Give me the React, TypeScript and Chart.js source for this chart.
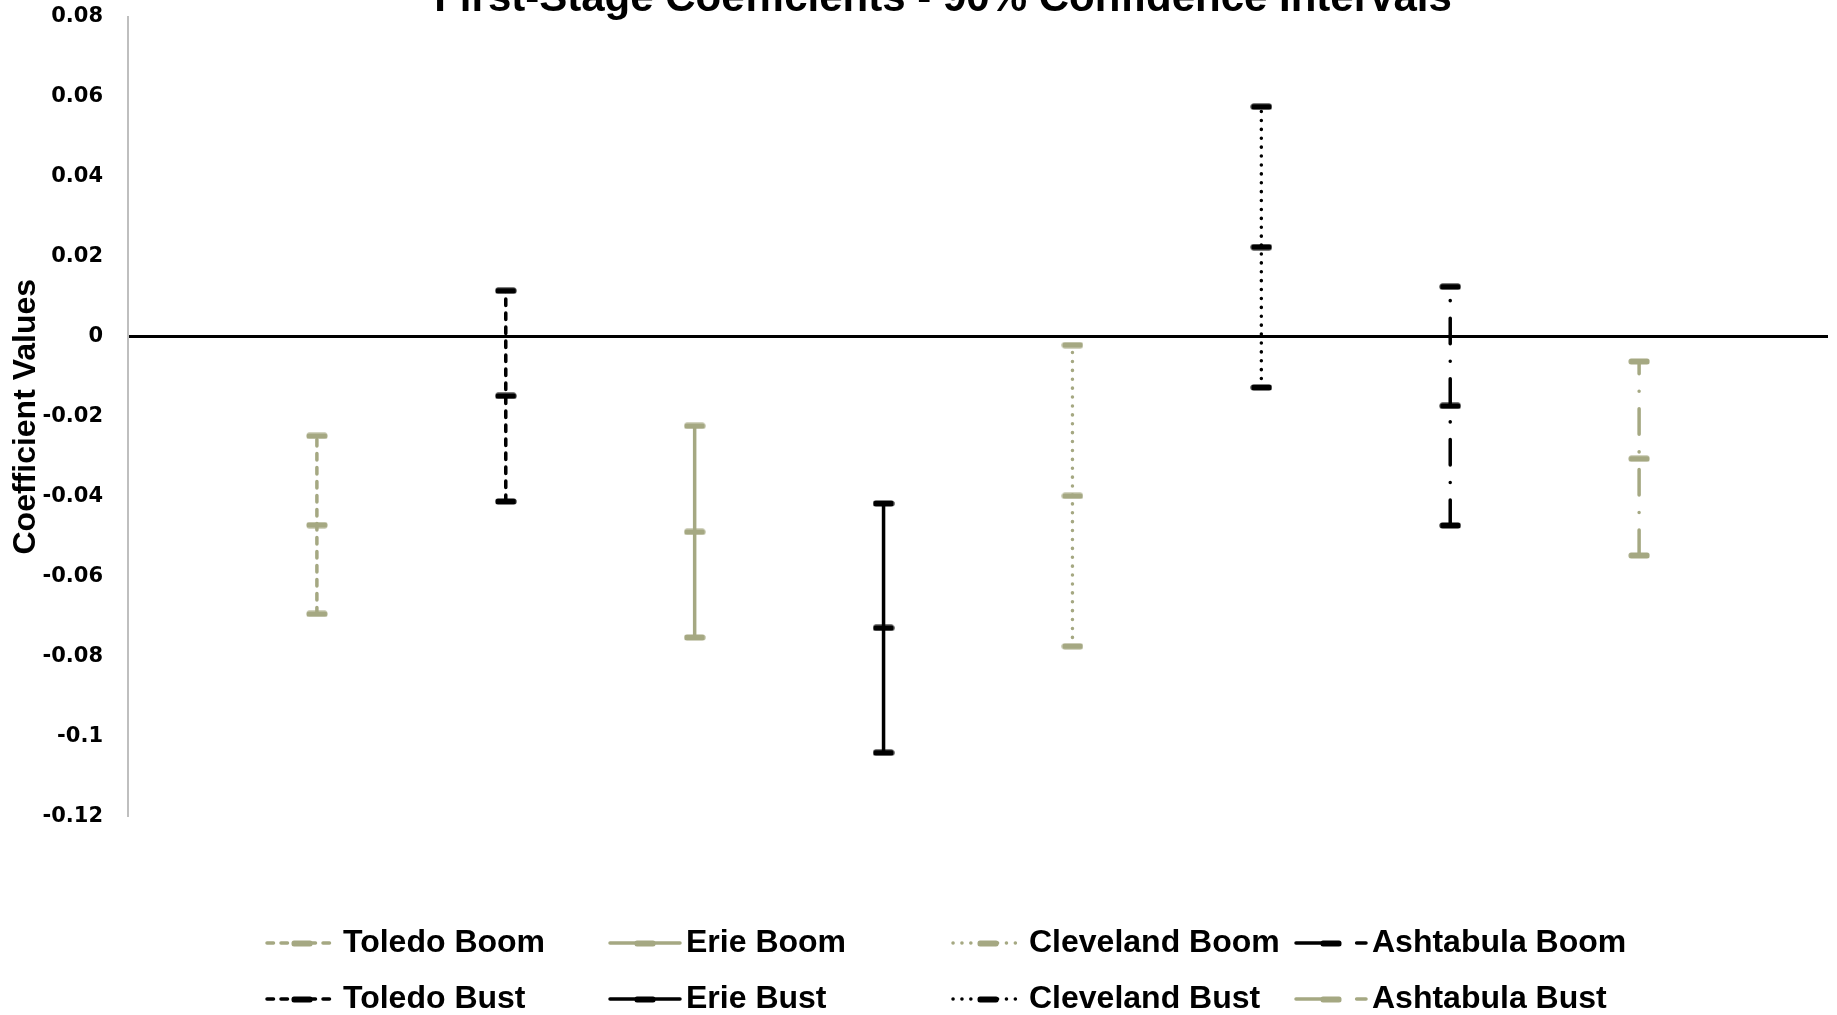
import React, { useEffect, useRef } from "react";
import { Chart, registerables } from "chart.js";

Chart.register(...registerables);

// ---------- data ----------
const categories = [
  "Toledo Boom",
  "Toledo Bust",
  "Erie Boom",
  "Erie Bust",
  "Cleveland Boom",
  "Cleveland Bust",
  "Ashtabula Boom",
  "Ashtabula Bust",
];
const xPositions = [1, 2, 3, 4, 5, 6, 7, 8];
const lowerBounds = [-0.0693, -0.0412, -0.0752, -0.104, -0.0774, -0.0127, -0.0472, -0.0547];
const pointEstimates = [-0.0471, -0.0148, -0.0488, -0.0728, -0.0398, 0.0224, -0.0173, -0.0305];
const upperBounds = [-0.0248, 0.0115, -0.0223, -0.0417, -0.0021, 0.0575, 0.0125, -0.0062];
const yTickValues = [0.08, 0.06, 0.04, 0.02, 0, -0.02, -0.04, -0.06, -0.08, -0.1, -0.12];
const yTickLabels = ["0.08", "0.06", "0.04", "0.02", "0", "-0.02", "-0.04", "-0.06", "-0.08", "-0.1", "-0.12"];
const chartTitle = "First-Stage Coefficients - 90% Confidence Intervals";
const yAxisTitle = "Coefficient Values";

// ---------- styles ----------
const OLIVE = "#A5A882";
const BLACK = "#000000";
const seriesColors = [OLIVE, BLACK, OLIVE, BLACK, OLIVE, BLACK, BLACK, OLIVE];
const DASHED = [6.5, 7.5];
const SOLID: number[] = [];
const DOTTED = [0.1, 8.8];
const LONGDASHDOT = [25.5, 17.5, 0.1, 17.5];
const seriesDashes = [DASHED, DASHED, SOLID, SOLID, DOTTED, DOTTED, LONGDASHDOT, LONGDASHDOT];

const SANS = "'Liberation Sans', Arial, sans-serif";
const TICKFONT = "'DejaVu Sans', 'Liberation Sans', sans-serif";

function makeMarker(color: string): HTMLCanvasElement {
  const c = document.createElement("canvas");
  c.width = 22;
  c.height = 7;
  const g = c.getContext("2d")!;
  g.fillStyle = color;
  g.beginPath();
  (g as any).roundRect(0.5, 0.5, 21, 6, 2.5);
  g.fill();
  return c;
}

const gridLegendPlugin = {
  id: "gridLegend",
  afterDraw(chart: any, _args: any, opts: any) {
    const ctx = chart.ctx as CanvasRenderingContext2D;
    const { startX, columnWidth, rowYs, sampleWidth, textGap, font } = opts;
    chart.data.datasets.forEach((ds: any, i: number) => {
      const col = Math.floor(i / 2);
      const row = i % 2;
      const x = startX + col * columnWidth;
      const y = rowYs[row];
      ctx.save();
      ctx.strokeStyle = ds.borderColor;
      ctx.lineWidth = ds.borderWidth;
      ctx.lineCap = "round";
      ctx.setLineDash(ds.borderDash || []);
      ctx.beginPath();
      ctx.moveTo(x, y);
      ctx.lineTo(x + sampleWidth, y);
      ctx.stroke();
      ctx.setLineDash([]);
      const img = ds.pointStyle as HTMLCanvasElement;
      ctx.drawImage(img, Math.round(x + sampleWidth / 2 - img.width / 2), Math.round(y - img.height / 2));
      ctx.fillStyle = "#000";
      ctx.font = font;
      ctx.textBaseline = "middle";
      ctx.textAlign = "left";
      ctx.fillText(ds.label, x + sampleWidth + textGap, y);
      ctx.restore();
    });
  },
};

export default function App() {
  const canvasRef = useRef<HTMLCanvasElement | null>(null);

  useEffect(() => {
    const canvas = canvasRef.current;
    if (!canvas) return;
    const oliveMarker = makeMarker(OLIVE);
    const blackMarker = makeMarker(BLACK);

    const datasets = categories.map((name, i) => ({
      label: name,
      data: [
        { x: xPositions[i], y: lowerBounds[i] },
        { x: xPositions[i], y: pointEstimates[i] },
        { x: xPositions[i], y: upperBounds[i] },
      ],
      showLine: true,
      borderColor: seriesColors[i],
      backgroundColor: seriesColors[i],
      borderWidth: 3.5,
      borderDash: seriesDashes[i],
      borderCapStyle: "round" as const,
      borderJoinStyle: "round" as const,
      tension: 0,
      pointStyle: seriesColors[i] === OLIVE ? oliveMarker : blackMarker,
      pointRadius: 6,
      pointHoverRadius: 6,
      yAxisID: "y",
    }));

    const chart = new Chart(canvas, {
      type: "scatter",
      data: { datasets },
      plugins: [gridLegendPlugin as any],
      options: {
        animation: false,
        responsive: false,
        devicePixelRatio: 1,
        events: [],
        layout: { padding: { top: 0, right: 0, bottom: 198.3, left: 0 } },
        plugins: {
          legend: { display: false },
          tooltip: { enabled: false },
          title: {
            display: true,
            text: chartTitle,
            color: "#000",
            font: { family: SANS, weight: "bold", size: 42, lineHeight: 0.8 },
            padding: { top: 12.6, bottom: 0.5 },
          },
          gridLegend: {
            startX: 267,
            columnWidth: 343,
            rowYs: [973, 1029],
            sampleWidth: 70,
            textGap: 6,
            font: `bold 32px ${SANS}`,
          },
        } as any,
        scales: {
          x: {
            type: "linear",
            min: 0,
            max: 9,
            display: false,
          },
          y: {
            type: "linear",
            position: "left",
            min: -0.12,
            max: 0.08,
            afterBuildTicks: (scale: any) => {
              scale.ticks = yTickValues.map((v) => ({ value: v }));
            },
            afterFit: (scale: any) => {
              scale.width = 128;
            },
            ticks: {
              padding: 25,
              color: "#000",
              font: { family: TICKFONT, weight: "bold", size: 21 },
              callback: (value: any) => {
                const idx = yTickValues.findIndex((v) => Math.abs(v - Number(value)) < 1e-9);
                return idx >= 0 ? yTickLabels[idx] : "";
              },
            },
            grid: {
              drawTicks: false,
              color: (c: any) => (c.tick && Math.abs(c.tick.value) < 1e-9 ? "#000" : "rgba(0,0,0,0)"),
              lineWidth: (c: any) => (c.tick && Math.abs(c.tick.value) < 1e-9 ? 3 : 0),
            },
            border: { display: true, color: "#BFBFBF", width: 2 },
            title: {
              display: true,
              text: yAxisTitle,
              color: "#000",
              font: { family: SANS, weight: "bold", size: 32, lineHeight: 1.2 },
              padding: { top: 6.8, bottom: 0 },
            },
          },
          yRight: {
            type: "linear",
            position: "right",
            display: true,
            ticks: { display: false },
            grid: { display: false },
            border: { display: false },
            afterFit: (scale: any) => {
              scale.width = 58;
            },
          },
        },
      } as any,
    });

    return () => {
      chart.destroy();
    };
  }, []);

  return (
    <div
      style={{
        position: "absolute",
        left: 0,
        top: 0,
        width: 1837,
        height: 1015,
        overflow: "hidden",
        background: "#fff",
      }}
    >
      <canvas
        ref={canvasRef}
        width={1886}
        height={1045}
        style={{ position: "absolute", left: 0, top: -30, display: "block" }}
      />
    </div>
  );
}
